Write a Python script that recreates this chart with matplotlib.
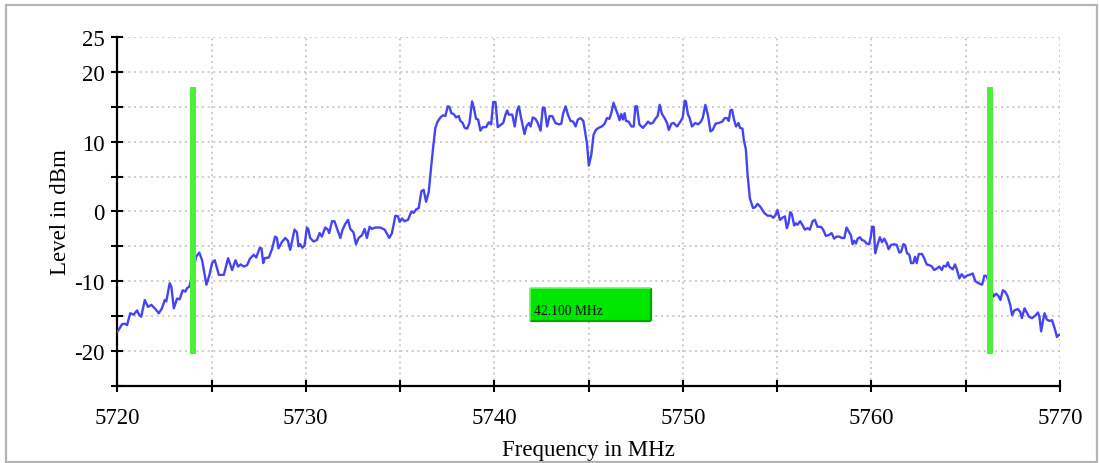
import matplotlib
matplotlib.use("Agg")
import matplotlib.pyplot as plt
from matplotlib.patches import Rectangle
from matplotlib.ticker import MultipleLocator, FuncFormatter

plt.rcParams['font.family'] = ['Liberation Serif', 'DejaVu Serif']

# ---- data ----
freq_mhz = [
    5720.00, 5720.25, 5720.39, 5720.52, 5720.69, 5720.87, 5721.05, 5721.17, 5721.27, 5721.46,
    5721.63, 5721.81, 5721.99, 5722.20, 5722.37, 5722.52, 5722.60, 5722.78, 5722.87, 5723.00,
    5723.17, 5723.31, 5723.47, 5723.61, 5723.70, 5723.82, 5724.00, 5724.18, 5724.35, 5724.50,
    5724.73, 5724.89, 5725.03, 5725.17, 5725.39, 5725.65, 5725.88, 5726.09, 5726.27, 5726.41,
    5726.55, 5726.71, 5726.89, 5727.03, 5727.24, 5727.37, 5727.56, 5727.65, 5727.74, 5727.83,
    5728.04, 5728.22, 5728.37, 5728.47, 5728.55, 5728.73, 5728.91, 5729.05, 5729.17, 5729.26,
    5729.40, 5729.53, 5729.61, 5729.70, 5729.82, 5729.93, 5730.06, 5730.14, 5730.23, 5730.41,
    5730.59, 5730.73, 5730.85, 5731.03, 5731.17, 5731.24, 5731.39, 5731.52, 5731.65, 5731.83,
    5731.95, 5732.09, 5732.24, 5732.36, 5732.53, 5732.66, 5732.80, 5732.98, 5733.12, 5733.24,
    5733.38, 5733.51, 5733.69, 5733.95, 5734.18, 5734.43, 5734.57, 5734.75, 5734.89, 5734.98,
    5735.10, 5735.24, 5735.42, 5735.60, 5735.72, 5735.85, 5735.99, 5736.13, 5736.25, 5736.38,
    5736.52, 5736.64, 5736.75, 5736.87, 5736.99, 5737.14, 5737.28, 5737.40, 5737.53, 5737.62,
    5737.72, 5737.84, 5737.97, 5738.11, 5738.20, 5738.32, 5738.43, 5738.56, 5738.68, 5738.82,
    5738.91, 5739.03, 5739.14, 5739.26, 5739.38, 5739.56, 5739.70, 5739.83, 5739.94, 5740.06,
    5740.18, 5740.32, 5740.47, 5740.59, 5740.68, 5740.76, 5740.95, 5741.08, 5741.21, 5741.30,
    5741.42, 5741.60, 5741.70, 5741.83, 5741.92, 5742.04, 5742.18, 5742.30, 5742.45, 5742.57,
    5742.66, 5742.80, 5742.93, 5743.07, 5743.24, 5743.42, 5743.55, 5743.65, 5743.78, 5743.90,
    5744.04, 5744.18, 5744.31, 5744.43, 5744.57, 5744.72, 5744.78, 5744.91, 5745.01, 5745.14,
    5745.26, 5745.38, 5745.53, 5745.70, 5745.85, 5745.97, 5746.10, 5746.20, 5746.32, 5746.45,
    5746.55, 5746.64, 5746.73, 5746.82, 5746.91, 5746.98, 5747.12, 5747.27, 5747.39, 5747.48,
    5747.56, 5747.69, 5747.88, 5748.01, 5748.15, 5748.27, 5748.40, 5748.54, 5748.66, 5748.77,
    5748.89, 5749.03, 5749.16, 5749.25, 5749.39, 5749.51, 5749.69, 5749.87, 5749.99, 5750.10,
    5750.16, 5750.27, 5750.36, 5750.48, 5750.66, 5750.80, 5750.93, 5751.05, 5751.19, 5751.33,
    5751.46, 5751.58, 5751.73, 5751.90, 5752.08, 5752.22, 5752.34, 5752.43, 5752.52, 5752.61,
    5752.71, 5752.82, 5752.95, 5753.03, 5753.16, 5753.23, 5753.34, 5753.43, 5753.55, 5753.72,
    5753.83, 5753.96, 5754.13, 5754.31, 5754.49, 5754.66, 5754.79, 5754.89, 5755.02, 5755.14,
    5755.28, 5755.41, 5755.51, 5755.60, 5755.69, 5755.78, 5755.90, 5755.99, 5756.08, 5756.22,
    5756.35, 5756.47, 5756.61, 5756.73, 5756.88, 5757.00, 5757.14, 5757.32, 5757.44, 5757.58,
    5757.73, 5757.89, 5758.02, 5758.15, 5758.29, 5758.43, 5758.56, 5758.68, 5758.82, 5758.91,
    5759.00, 5759.09, 5759.18, 5759.27, 5759.39, 5759.50, 5759.62, 5759.75, 5759.88, 5759.97,
    5760.03, 5760.12, 5760.20, 5760.33, 5760.45, 5760.56, 5760.68, 5760.81, 5760.91, 5761.04,
    5761.21, 5761.34, 5761.48, 5761.57, 5761.69, 5761.78, 5761.89, 5762.01, 5762.10, 5762.22,
    5762.31, 5762.40, 5762.51, 5762.68, 5762.80, 5762.93, 5763.07, 5763.21, 5763.33, 5763.46,
    5763.60, 5763.73, 5763.83, 5763.96, 5764.05, 5764.13, 5764.31, 5764.43, 5764.54, 5764.66,
    5764.79, 5764.93, 5765.06, 5765.19, 5765.37, 5765.51, 5765.69, 5765.87, 5765.99, 5766.12,
    5766.30, 5766.47, 5766.61, 5766.73, 5766.84, 5766.97, 5767.09, 5767.23, 5767.36, 5767.46,
    5767.58, 5767.76, 5767.89, 5767.98, 5768.12, 5768.20, 5768.35, 5768.52, 5768.70, 5768.83,
    5768.91, 5769.00, 5769.09, 5769.18, 5769.30, 5769.44, 5769.58, 5769.71, 5769.84, 5769.94,
    5770.00,
]
level_dbm = [
    -17.3, -16.2, -16.1, -16.3, -14.6, -14.8, -14.2, -14.9, -15.1, -12.7,
    -13.7, -13.4, -13.9, -14.6, -13.9, -12.7, -12.9, -10.3, -10.8, -13.9,
    -12.5, -12.6, -11.3, -11.5, -11.0, -10.8, -8.8, -6.5, -5.9, -7.0,
    -10.5, -9.1, -7.4, -7.0, -9.1, -9.1, -6.7, -8.4, -7.0, -7.9,
    -7.6, -7.9, -7.7, -6.8, -6.2, -6.6, -5.2, -5.3, -7.4, -6.7,
    -6.6, -5.3, -3.6, -3.8, -5.3, -4.4, -3.8, -4.2, -5.5, -4.4,
    -2.6, -3.0, -5.0, -4.7, -5.2, -4.9, -2.3, -2.6, -3.8, -4.3,
    -4.1, -3.1, -3.6, -2.3, -2.6, -3.1, -1.4, -1.4, -2.4, -3.8,
    -2.6, -1.8, -1.2, -2.5, -3.0, -4.7, -3.8, -3.4, -2.5, -3.8,
    -2.2, -2.5, -2.3, -2.3, -2.6, -3.8, -3.1, -0.6, -0.7, -1.5,
    -1.0, -1.4, -1.2, 0.0, -0.2, 0.3, 0.5, 2.9, 3.1, 1.4,
    2.8, 6.2, 9.1, 12.0, 12.9, 13.5, 13.8, 13.7, 15.1, 15.0,
    14.1, 14.0, 13.5, 13.7, 13.0, 12.7, 12.0, 11.9, 12.7, 15.8,
    14.9, 13.3, 13.2, 11.6, 12.1, 12.1, 12.8, 12.5, 15.7, 15.7,
    12.1, 12.4, 12.7, 13.9, 14.5, 13.9, 13.9, 12.2, 14.5, 15.1,
    13.4, 11.1, 12.2, 12.7, 12.2, 13.5, 13.3, 12.7, 11.6, 14.9,
    14.9, 12.2, 13.7, 13.7, 12.7, 12.5, 12.6, 14.1, 15.1, 13.9,
    13.0, 12.9, 12.2, 13.2, 13.4, 13.0, 12.0, 9.8, 6.6, 8.1,
    11.0, 11.7, 12.0, 12.2, 12.6, 13.4, 13.3, 14.1, 15.6, 14.6,
    13.9, 13.1, 14.0, 13.2, 14.1, 13.0, 12.9, 12.2, 12.2, 15.1,
    15.1, 12.5, 12.0, 12.4, 12.9, 12.6, 12.7, 13.3, 13.7, 15.3,
    14.0, 13.4, 12.7, 11.7, 12.6, 12.7, 12.2, 12.9, 13.5, 15.9,
    15.8, 13.9, 13.4, 12.2, 12.7, 12.5, 12.8, 13.4, 15.3, 13.8,
    11.5, 11.7, 12.6, 12.7, 12.9, 13.4, 13.4, 13.0, 14.5, 14.6,
    13.2, 12.2, 12.7, 12.0, 11.9, 10.3, 8.9, 5.3, 1.9, 0.5,
    0.6, 1.1, 0.6, -0.2, -0.6, -0.6, -0.9, -0.6, 0.2, -1.2,
    -0.9, -0.7, -2.4, -1.7, -0.1, -0.4, -2.0, -1.7, -1.9, -1.4,
    -2.0, -2.6, -2.4, -2.6, -1.4, -1.2, -2.2, -2.2, -2.6, -3.5,
    -3.4, -3.1, -3.9, -3.6, -3.6, -3.8, -3.8, -2.3, -3.0, -3.4,
    -4.7, -4.2, -4.6, -3.9, -3.7, -4.1, -4.2, -4.6, -4.7, -3.6,
    -2.2, -2.2, -6.0, -4.7, -3.7, -4.4, -3.9, -4.6, -5.4, -4.8,
    -4.7, -4.8, -5.9, -5.8, -4.7, -4.8, -6.0, -6.2, -7.4, -7.4,
    -6.5, -7.4, -6.1, -6.1, -6.7, -7.6, -7.7, -7.9, -8.4, -8.2,
    -7.9, -8.4, -7.8, -7.9, -7.3, -7.9, -8.3, -7.6, -8.4, -9.6,
    -9.0, -9.5, -9.2, -9.1, -8.9, -10.0, -10.3, -10.5, -9.2, -9.3,
    -10.8, -12.2, -11.8, -12.1, -12.7, -11.3, -11.5, -12.2, -13.4, -14.9,
    -14.2, -14.0, -14.4, -15.3, -13.9, -14.3, -15.1, -15.3, -14.9, -14.5,
    -15.1, -17.2, -15.8, -14.6, -15.5, -15.7, -15.6, -16.7, -18.0, -17.7,
    -17.7,
]
marker_freqs = [5724.00, 5766.28]
marker_top_dbm = 17.9
marker_bottom_dbm = -20.4
bandwidth_label = "42.100 MHz"

x_ticks = [5720, 5730, 5740, 5750, 5760, 5770]
y_tick_labels = {25: "25", 20: "20", 10: "10", 0: "0", -10: "-10", -20: "-20"}

# ---- figure ----
fig = plt.figure(figsize=(10.99, 4.64), dpi=100)
ax = fig.add_axes([0.1067, 0.1666, 0.8578, 0.7509])

# light grey frame around the whole chart
fig.patches.append(Rectangle((6 / 1099, 1 / 464), 1091 / 1099, 457 / 464,
                             transform=fig.transFigure, fill=False,
                             edgecolor='#b4b4b4', linewidth=1.6))

ax.plot(freq_mhz, level_dbm, color='#4444f5', linewidth=1.7, zorder=3,
        solid_joinstyle='round')

for f in marker_freqs:
    ax.plot([f, f], [marker_bottom_dbm, marker_top_dbm], color='#4cf03c',
            linewidth=4.3, solid_capstyle='butt', zorder=4)

# bandwidth label box
bx0, bx1, by0, by1 = 5741.88, 5748.29, -15.7, -11.0
ax.add_patch(Rectangle((bx0, by0), bx1 - bx0, by1 - by0, facecolor='#00e600',
                       edgecolor='none', zorder=5))
ax.plot([bx0, bx1], [by0, by0], color='#00a800', linewidth=1.6, zorder=6,
        solid_capstyle='butt')
ax.plot([bx1, bx1], [by0, by1], color='#00a800', linewidth=1.6, zorder=6,
        solid_capstyle='butt')
ax.plot([bx0, bx1], [by1, by1], color='#6af56a', linewidth=1.2, zorder=6,
        solid_capstyle='butt')
ax.plot([bx0, bx0], [by0, by1], color='#6af56a', linewidth=1.2, zorder=6,
        solid_capstyle='butt')
ax.text(bx0 + 0.2, (by0 + by1) / 2 - 0.9, bandwidth_label, fontsize=9.8,
        ha='left', va='center', color='#101010', zorder=7)

ax.set_xlim(5720, 5770)
ax.set_ylim(-25, 25)

ax.xaxis.set_major_locator(MultipleLocator(5))
ax.yaxis.set_major_locator(MultipleLocator(5))
ax.xaxis.set_major_formatter(FuncFormatter(
    lambda v, p: f"{int(round(v))}" if int(round(v)) in x_ticks else ""))
ax.yaxis.set_major_formatter(FuncFormatter(
    lambda v, p: y_tick_labels.get(int(round(v)), "")))

ax.grid(True, color='#c4c4c4', linestyle=(0, (1.2, 2.2)), linewidth=1.2, zorder=0)
ax.set_axisbelow(True)

for s in ['top', 'right']:
    ax.spines[s].set_visible(False)
for s in ['left', 'bottom']:
    ax.spines[s].set_linewidth(1.6)
    ax.spines[s].set_color('black')

ax.tick_params(axis='both', direction='inout', length=8.6, width=1.5,
               colors='black', labelsize=16.5)
ax.tick_params(axis='x', pad=11)
ax.tick_params(axis='y', pad=5)

ax.set_xlabel("Frequency in MHz", fontsize=16.5, labelpad=8)
ax.set_ylabel("Level in dBm", fontsize=16.5, labelpad=2)

fig.savefig("out.png", dpi=100)
